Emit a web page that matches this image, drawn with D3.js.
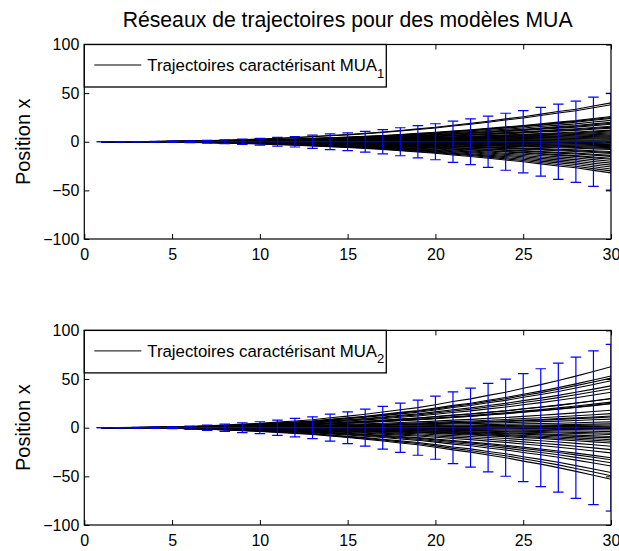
<!DOCTYPE html>
<html>
<head>
<meta charset="utf-8">
<script src="https://cdn.jsdelivr.net/npm/d3@7"></script>
<style>
  body { margin: 0; background: #fff; }
  svg text { font-family: "Liberation Sans", Arial, Helvetica, sans-serif; fill: #000; }
</style>
</head>
<body>
<div id="chart"></div>
<script>
// time steps (x axis)
const steps = [1,2,3,4,5,6,7,8,9,10,11,12,13,14,15,16,17,18,19,20,21,22,23,24,25,26,27,28,29,30];

// MUA 1 : mean and error bar half-length at each step
const meanTop = [0,0,0,0,0,0,0,0,0,0,0,0,0,0,0,0,0,0,0,0,0,0,0,0,0,0,0,0,0,0];
const errTop = [0,0.1,0.2,0.4,0.7,1.0,1.4,2.0,2.7,3.4,4.4,5.4,6.8,8.0,9.2,10.7,12.4,14.4,16.5,18.5,21.2,23.5,26.3,29.3,32,35.4,38.7,41.7,45.8,49.8];
// value of each trajectory at the last step
const endTop = [40,38,26,25,24,22,20,19,18,16,15,14,12,11,10,9,8,7,6,5,4,3,2,1,0,-1,-2,-3,-4,-5,-6,-7,-8,-10,-11,-12,-14,-15,-17,-18,-20,-22,-24,-26,-28,-30,-32];

// MUA 2
const meanBottom = [0,0,0,0,0,0,0,0,0,0,0,0,0,0,0,0,0,0,0,0,0,0,0,0,0,0,0,0,0,0];
const errBottom = [0,0.2,0.4,0.7,1.0,1.7,2.7,3.7,5.1,6.1,7.8,9.5,11.2,13.9,16.3,19,22,25.3,28.3,32.4,36.9,40.6,45.5,49.9,55.5,60.6,66.3,72.6,79,85.7];
const endBottom = [62.6,53.2,51,48.2,43,40,36.4,30,29.7,26.3,25,24.6,18,14.5,12,11,8.8,6,4,2.7,1.5,0.5,-1,-2.3,-4,-5.7,-7,-9,-10.5,-12.4,-14,-15.8,-19,-22.5,-25.9,-30.9,-33,-36,-39.3,-46,-49.4,-53];

const xTicks = [0,5,10,15,20,25,30];
const yTicks = [-100,-50,0,50,100];

class TrajectoryChart {
  constructor(_config, _data) {
    this.config = {
      svg: _config.svg,
      left: _config.left,
      top: _config.top,
      width: _config.width,
      height: _config.height,
      id: _config.id,
      legendLabel: _config.legendLabel,
      legendSub: _config.legendSub,
    };
    this.data = _data;
    this.initVis();
  }

  initVis() {
    let vis = this;
    const c = vis.config;

    vis.chart = c.svg.append('g')
      .attr('transform', `translate(${c.left},${c.top})`);

    vis.xScale = d3.scaleLinear().domain([0, 30]).range([0, c.width]);
    vis.yScale = d3.scaleLinear().domain([-100, 100]).range([c.height, 0]);

    vis.chart.append('clipPath').attr('id', 'clip-' + c.id)
      .append('rect').attr('width', c.width).attr('height', c.height);

    vis.plot = vis.chart.append('g').attr('clip-path', `url(#clip-${c.id})`);

    vis.renderVis();
  }

  renderVis() {
    let vis = this;
    const c = vis.config;
    const d = vis.data;
    const last = d.err[d.err.length - 1];

    // each trajectory follows the growth of the envelope up to its end value
    const trajectories = d.ends.map(e => steps.map((x, i) => [x, e * d.err[i] / last]));

    const line = d3.line()
      .x(p => vis.xScale(p[0]))
      .y(p => vis.yScale(p[1]));

    vis.plot.selectAll('.traj')
      .data(trajectories)
      .join('path')
        .attr('class', 'traj')
        .attr('d', line)
        .attr('fill', 'none')
        .attr('stroke', '#000')
        .attr('stroke-width', 1.1);

    // error bars
    const bars = steps.map((x, i) => ({x: x, m: d.mean[i], e: d.err[i]}));

    vis.plot.append('path')
      .attr('d', line(bars.map(b => [b.x, b.m])))
      .attr('fill', 'none')
      .attr('stroke', '#0000ff')
      .attr('stroke-width', 1.2);

    const eb = vis.plot.selectAll('.ebar')
      .data(bars)
      .join('g')
        .attr('class', 'ebar')
        .attr('stroke', '#0000ff')
        .attr('stroke-width', 1.2);

    eb.append('line')
      .attr('x1', b => vis.xScale(b.x)).attr('x2', b => vis.xScale(b.x))
      .attr('y1', b => vis.yScale(b.m - b.e)).attr('y2', b => vis.yScale(b.m + b.e));
    eb.append('line')
      .attr('x1', b => vis.xScale(b.x - 0.3)).attr('x2', b => vis.xScale(b.x + 0.3))
      .attr('y1', b => vis.yScale(b.m + b.e)).attr('y2', b => vis.yScale(b.m + b.e));
    eb.append('line')
      .attr('x1', b => vis.xScale(b.x - 0.3)).attr('x2', b => vis.xScale(b.x + 0.3))
      .attr('y1', b => vis.yScale(b.m - b.e)).attr('y2', b => vis.yScale(b.m - b.e));

    // axes, ticks inside
    const fmt = d3.format('d');
    vis.chart.append('g').attr('transform', `translate(0,${c.height})`)
      .call(d3.axisBottom(vis.xScale).tickValues(xTicks).tickFormat(fmt).tickSize(-5).tickPadding(10));
    vis.chart.append('g')
      .call(d3.axisTop(vis.xScale).tickValues(xTicks).tickFormat('').tickSize(-5));
    vis.chart.append('g')
      .call(d3.axisLeft(vis.yScale).tickValues(yTicks).tickFormat(fmt).tickSize(-5).tickPadding(5));
    vis.chart.append('g').attr('transform', `translate(${c.width},0)`)
      .call(d3.axisRight(vis.yScale).tickValues(yTicks).tickFormat('').tickSize(-5));

    vis.chart.selectAll('.domain').remove();
    vis.chart.selectAll('.tick line').attr('stroke', '#000');
    vis.chart.selectAll('.tick text').attr('font-size', 16).attr('font-family', null);

    vis.chart.append('rect')
      .attr('width', c.width).attr('height', c.height)
      .attr('fill', 'none').attr('stroke', '#000').attr('stroke-width', 1.2);

    // y axis title
    vis.chart.append('text')
      .attr('transform', `translate(-54,${c.height / 2}) rotate(-90)`)
      .attr('text-anchor', 'middle')
      .attr('font-size', 20)
      .text('Position x');

    // legend
    const lg = vis.chart.append('g');
    lg.append('rect')
      .attr('width', 302).attr('height', 42.5)
      .attr('fill', '#fff').attr('stroke', '#000').attr('stroke-width', 1.3);
    lg.append('line')
      .attr('x1', 10).attr('x2', 57).attr('y1', 20.5).attr('y2', 20.5)
      .attr('stroke', '#000').attr('stroke-width', 1);
    const lt = lg.append('text')
      .attr('x', 63).attr('y', 26.5)
      .attr('font-size', 16.8);
    lt.append('tspan').text(c.legendLabel);
    lt.append('tspan').attr('font-size', 13).attr('dy', 6.5).text(c.legendSub);
  }
}

const W = 619, H = 551;
const svg = d3.select('#chart').append('svg')
  .attr('width', W).attr('height', H);

svg.append('text')
  .attr('x', 347.6).attr('y', 27)
  .attr('text-anchor', 'middle')
  .attr('font-size', 21.2)
  .text('Réseaux de trajectoires pour des modèles MUA');

new TrajectoryChart({
  svg: svg, left: 84.3, top: 44.5, width: 526.7, height: 194.5, id: 'mua1',
  legendLabel: 'Trajectoires caractérisant MUA', legendSub: '1'
}, {mean: meanTop, err: errTop, ends: endTop});

new TrajectoryChart({
  svg: svg, left: 84.3, top: 330.4, width: 526.7, height: 194.6, id: 'mua2',
  legendLabel: 'Trajectoires caractérisant MUA', legendSub: '2'
}, {mean: meanBottom, err: errBottom, ends: endBottom});
</script>
</body>
</html>
